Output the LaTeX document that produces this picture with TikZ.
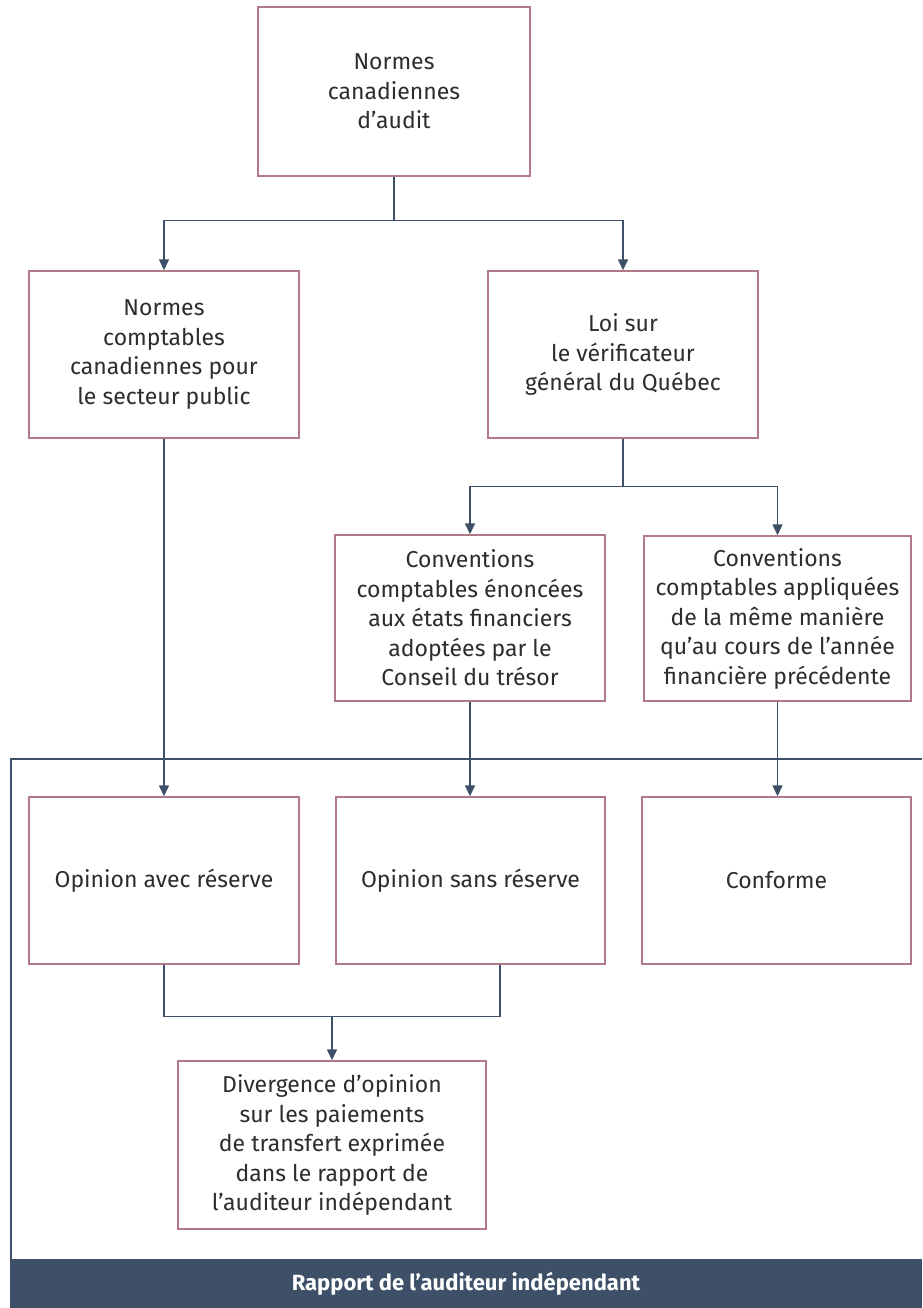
\documentclass[tikz,border=0pt]{standalone}
\usepackage{fontspec}
\setmainfont{Fira Sans}
\usetikzlibrary{arrows.meta,calc}
\definecolor{boxc}{RGB}{178,122,135}
\definecolor{slate}{RGB}{61,80,103}
\definecolor{txt}{RGB}{45,45,45}
\tikzset{
  boxnode/.style={draw=boxc,line width=1.4pt,fill=white,minimum width=270pt,minimum height=167pt,
    align=center,text=txt,font=\fontsize{23pt}{29.5pt}\selectfont,inner sep=0pt},
  conn/.style={draw=slate,line width=1.4pt},
  arr/.style={conn,-{Triangle[length=11pt,width=10pt]}},
}
\begin{document}
\begin{tikzpicture}[x=1pt,y=-1pt]
\useasboundingbox (0,0) rectangle (922,1308);
\fill[white] (0,0) rectangle (922,1308);
% frame
\draw[slate,line width=2pt] (11,1259) -- (11,759) -- (922,759);
\fill[slate] (10,1259) rectangle (922,1308);
\node[font=\fontsize{22pt}{26pt}\selectfont\bfseries,text=white] (bar) at (466,1284) {Rapport de l’auditeur indépendant};
% boxes
\node[boxnode,minimum width=272pt,minimum height=169pt] (n1) at (394,91.5) {Normes\\canadiennes\\d’audit};
\node[boxnode] (n2) at (164,354.5) {Normes\\comptables\\canadiennes pour\\le secteur public};
\node[boxnode] (n3) at (623,354.5) {Loi sur\\le vérificateur\\général du Québec};
\node[boxnode,minimum height=166pt] (n4) at (470,618) {Conventions\\comptables énoncées\\aux états financiers\\adoptées par le\\Conseil du trésor};
\node[boxnode,minimum width=267pt,minimum height=165pt] (n5) at (777.5,618.5) {Conventions\\comptables appliquées\\de la même manière\\qu’au cours de l’année\\financière précédente};
\node[boxnode] (o1) at (164,880.5) {Opinion avec réserve};
\node[boxnode,minimum width=269pt] (o2) at (470.5,880.5) {Opinion sans réserve};
\node[boxnode,minimum width=269pt] (o3) at (776.5,880.5) {Conforme};
\node[boxnode,minimum width=308pt,minimum height=168pt] (d) at (332,1145) {Divergence d’opinion\\sur les paiements\\de transfert exprimée\\dans le rapport de\\l’auditeur indépendant};
% connectors
\draw[arr] (n1.south) -- ++(0,44) -| (n2.north);
\draw[arr] (n1.south) -- ++(0,44) -| (n3.north);
\draw[arr] (n3.south) -- ++(0,48) -| (n4.north);
\draw[arr] (n3.south) -- ++(0,48) -| (n5.north);
\draw[arr] (n2.south) -- (o1.north);
\draw[arr] (n4.south) -- (n4.south |- o2.north);
\draw[arr] (n5.south) -- (n5.south |- o3.north);
\coordinate (jr) at ($(o2.south)+(29.5,0)$);
\coordinate (jm) at ($(o1.south)!0.5!(jr)+(0,52)$);
\draw[conn] (o1.south) |- (jm) -| (jr);
\draw[arr] (jm) -- (d.north);
\end{tikzpicture}
\end{document}
